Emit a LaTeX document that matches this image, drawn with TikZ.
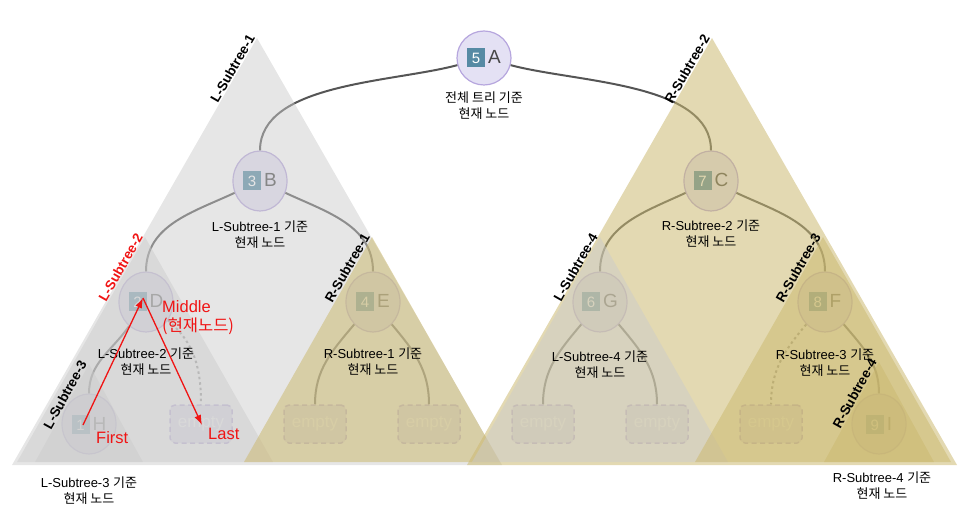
\documentclass[tikz,border=0pt]{standalone}
\usepackage{fontspec}
\setmainfont{Liberation Sans}
\newfontfamily\krfont{Noto Sans CJK KR}
\usepackage{tikz}
\usetikzlibrary{shapes.geometric}
\usetikzlibrary{positioning}
\usetikzlibrary{arrows.meta}
\definecolor{nodefill}{RGB}{228,225,244}
\definecolor{nodeline}{RGB}{182,166,222}
\definecolor{iconblue}{RGB}{86,138,164}
\definecolor{edgegray}{RGB}{85,85,85}
\definecolor{trigray}{RGB}{203,203,203}
\definecolor{tritan}{RGB}{203,185,112}
\definecolor{markred}{RGB}{240,20,20}
\def\kb#1{{\krfont #1}}
\newcommand\numicon[1]{{\setlength\fboxsep{0pt}\colorbox{iconblue}{\makebox[18pt][c]{\rule[-3.5pt]{0pt}{19pt}\color{white}\fontsize{15}{15}\selectfont #1}}}}
\tikzset{
  treenode/.style={ellipse, draw=nodeline, line width=1.2pt, fill=nodefill,
    minimum width=54pt, minimum height=60pt, inner sep=1pt, text=black!72,
    font=\fontsize{19}{19}\selectfont},
  emptynode/.style={rectangle, rounded corners=5pt, draw=nodeline,
    dash pattern=on 5pt off 3.5pt, line width=1.5pt, fill=nodefill,
    minimum width=62pt, minimum height=38pt, text=white,
    font=\fontsize{17}{17}\selectfont},
  treeedge/.style={draw=edgegray, line width=2pt},
  nulledge/.style={draw=edgegray!70, line width=2pt, dash pattern=on 2.5pt off 3pt},
  graytri/.style={fill=trigray, fill opacity=0.48},
  tantri/.style={fill=tritan, fill opacity=0.54},
  basetext/.style={align=center, inner sep=0pt, font=\fontsize{13}{15.5}\selectfont},
  treelabel/.style={sloped, anchor=south east, inner sep=1pt,
    font=\bfseries\fontsize{13.5}{13.5}\selectfont},
  redtext/.style={text=markred, inner sep=0pt, font=\fontsize{16.5}{19}\selectfont},
  redarrow/.style={draw=markred, line width=1.3pt, -{Latex[length=10pt,width=7pt]}}
}

\begin{document}
\begin{tikzpicture}[x=1pt,y=1pt]
    \useasboundingbox (0,0) rectangle (966,509);
    % Tree nodes
    \node[treenode, minimum height=54pt] (A) at (484,451) {\numicon{5}\hspace{3pt}A};
    \node[treenode] (B) at (260,328) {\numicon{3}\hspace{3pt}B};
    \node[treenode] (C) at (711,328) {\numicon{7}\hspace{3pt}C};
    \node[treenode] (D) at (146,207) {\numicon{2}\hspace{3pt}D};
    \node[treenode] (E) at (373,207) {\numicon{4}\hspace{3pt}E};
    \node[treenode] (G) at (600,207) {\numicon{6}\hspace{3pt}G};
    \node[treenode] (F) at (825,207) {\numicon{8}\hspace{3pt}F};
    \node[treenode] (H) at (89,85) {\numicon{1}\hspace{3pt}H};
    \node[treenode] (I) at (879,85) {\numicon{9}\hspace{3pt}I};
    % Empty children
    \node[emptynode] (eD) at (201,85) {empty};
    \node[emptynode] (eE1) at (315,85) {empty};
    \node[emptynode] (eE2) at (429,85) {empty};
    \node[emptynode] (eG1) at (543,85) {empty};
    \node[emptynode] (eG2) at (657,85) {empty};
    \node[emptynode] (eF) at (771,85) {empty};
    % Edges
    \draw[treeedge] (A) to[out=195,in=90,looseness=0.8] (B);
    \draw[treeedge] (A) to[out=-15,in=90,looseness=0.8] (C);
    \draw[treeedge] (B) to[out=205,in=90] (D);
    \draw[treeedge] (B) to[out=-25,in=90] (E);
    \draw[treeedge] (C) to[out=205,in=90] (G);
    \draw[treeedge] (C) to[out=-25,in=90] (F);
    \draw[treeedge] (D) to[out=235,in=90] (H);
    \draw[nulledge] (D) to[out=-40,in=90] (eD);
    \draw[treeedge] (E) to[out=230,in=90] (eE1);
    \draw[treeedge] (E) to[out=-50,in=90] (eE2);
    \draw[treeedge] (G) to[out=230,in=90] (eG1);
    \draw[treeedge] (G) to[out=-50,in=90] (eG2);
    \draw[nulledge] (F) to[out=230,in=90] (eF);
    \draw[treeedge] (F) to[out=-50,in=90] (I);
    % Subtree triangles
    \coordinate (L1t) at (257,471); \coordinate (L1b) at (12,44); \coordinate (L1c) at (502,44);
    \coordinate (R2t) at (712,471); \coordinate (R2b) at (467,44); \coordinate (R2c) at (957,44);
    \coordinate (L2t) at (145,272); \coordinate (L2b) at (17,47); \coordinate (L2c) at (273,47);
    \coordinate (R1t) at (372,272); \coordinate (R1b) at (244,47); \coordinate (R1c) at (500,47);
    \coordinate (L4t) at (600,272); \coordinate (L4b) at (472,47); \coordinate (L4c) at (728,47);
    \coordinate (R3t) at (823,272); \coordinate (R3b) at (695,47); \coordinate (R3c) at (951,47);
    \coordinate (L3t) at (89,145); \coordinate (L3b) at (35,47); \coordinate (L3c) at (143,47);
    \coordinate (R4t) at (879,147); \coordinate (R4b) at (824,47); \coordinate (R4c) at (934,47);
    \fill[graytri] (L1b) -- (L1t) -- (L1c) -- cycle;
    \fill[tantri] (R2b) -- (R2t) -- (R2c) -- cycle;
    \fill[graytri] (L2b) -- (L2t) -- (L2c) -- cycle;
    \fill[tantri] (R1b) -- (R1t) -- (R1c) -- cycle;
    \fill[graytri] (L4b) -- (L4t) -- (L4c) -- cycle;
    \fill[tantri] (R3b) -- (R3t) -- (R3c) -- cycle;
    \fill[graytri] (L3b) -- (L3t) -- (L3c) -- cycle;
    \fill[tantri] (R4b) -- (R4t) -- (R4c) -- cycle;
    % Subtree names
    \path (L1b) -- (L1t) node[treelabel, pos=1] (nL1) {L-Subtree-1};
    \path (R2b) -- (R2t) node[treelabel, pos=1] (nR2) {R-Subtree-2};
    \path (L2b) -- (L2t) node[treelabel, pos=1, text=markred] (nL2) {L-Subtree-2};
    \path (R1b) -- (R1t) node[treelabel, pos=1] (nR1) {R-Subtree-1};
    \path (L4b) -- (L4t) node[treelabel, pos=1] (nL4) {L-Subtree-4};
    \path (R3b) -- (R3t) node[treelabel, pos=1] (nR3) {R-Subtree-3};
    \path (L3b) -- (L3t) node[treelabel, pos=1] (nL3) {L-Subtree-3};
    \path (R4b) -- (R4t) node[treelabel, pos=1] (nR4) {R-Subtree-4};
    % Current node captions
    \node[basetext, below=6pt of A] (tA) {\kb{전체 트리 기준}\\\kb{현재 노드}};
    \node[basetext, below=9pt of B] (tB) {L-Subtree-1 \kb{기준}\\\kb{현재 노드}};
    \node[basetext, below=8pt of C] (tC) {R-Subtree-2 \kb{기준}\\\kb{현재 노드}};
    \node[basetext, below=15pt of D] (tD) {L-Subtree-2 \kb{기준}\\\kb{현재 노드}};
    \node[basetext, below=15pt of E] (tE) {R-Subtree-1 \kb{기준}\\\kb{현재 노드}};
    \node[basetext, below=18pt of G] (tG) {L-Subtree-4 \kb{기준}\\\kb{현재 노드}};
    \node[basetext, below=16pt of F] (tF) {R-Subtree-3 \kb{기준}\\\kb{현재 노드}};
    \node[basetext, below=22pt of H] (tH) {L-Subtree-3 \kb{기준}\\\kb{현재 노드}};
    \node[basetext, below=17pt of I, xshift=3pt] (tI) {R-Subtree-4 \kb{기준}\\\kb{현재 노드}};
    % First / Middle / Last
    \coordinate (firstpt) at (83,84);
    \coordinate (midpt) at (143,211);
    \coordinate (lastpt) at (202,84);
    \draw[redarrow] (firstpt) -- (midpt);
    \draw[redarrow] (midpt) -- (lastpt);
    \node[redtext, anchor=west, align=left] (midtxt) at (162,191.5) {Middle\\\kb{(현재노드)}};
    \node[redtext, anchor=west] (firsttxt) at (96,71) {First};
    \node[redtext, anchor=west] (lasttxt) at (208,75) {Last};
\end{tikzpicture}
\end{document}
